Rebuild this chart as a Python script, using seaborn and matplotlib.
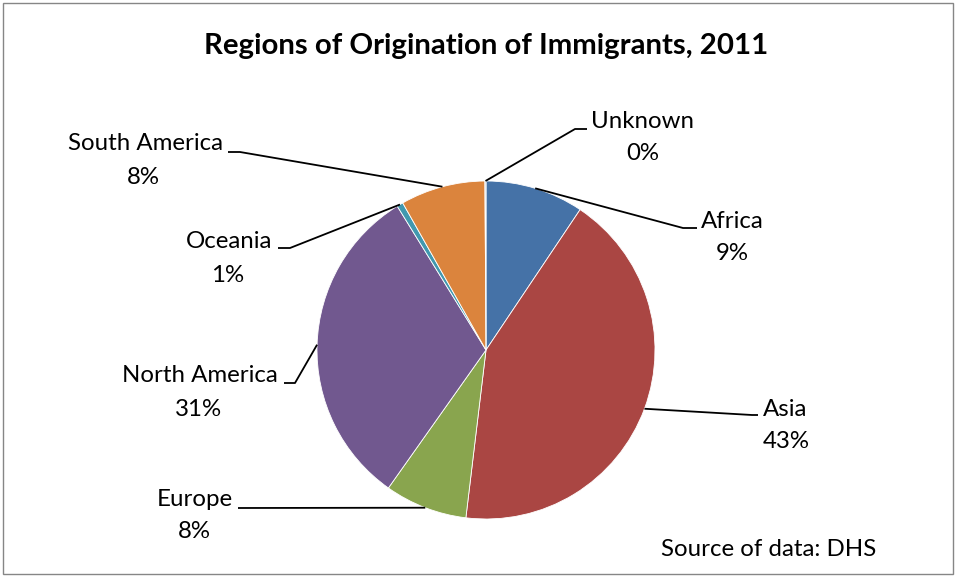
import numpy as np
import matplotlib
matplotlib.use("Agg")
import matplotlib.pyplot as plt
from matplotlib.patches import Rectangle
import seaborn as sns

# Share of immigrants by region of origin (percent)
regions = ["Africa", "Asia", "Europe", "North America", "Oceania",
           "South America", "Unknown"]
shares = [9.4, 42.5, 7.9, 31.4, 0.6, 8.1, 0.1]
colors = ["#4572A7", "#AA4643", "#89A54E", "#71588F", "#4198AF",
          "#DB843D", "#93A9CF"]

title = "Regions of Origination of Immigrants, 2011"
source = "Source of data: DHS"

sns.set_theme(style="white")
plt.rcParams["font.family"] = ["Lato", "DejaVu Sans"]

W, H = 956, 577
fig = plt.figure(figsize=(W / 100, H / 100), dpi=100)
ax = fig.add_axes([0, 0, 1, 1])

# pie geometry in pixel units (y up)
cx, cy, r = 486, H - 350, 169

wedges, _ = ax.pie(shares, colors=colors, startangle=90, counterclock=False,
                   center=(cx, cy), radius=r,
                   wedgeprops=dict(edgecolor="white", linewidth=0.6))
ax.set_xlim(0, W)
ax.set_ylim(0, H)
ax.set_aspect("equal")
ax.axis("off")

# label layout: (elbow point, end of horizontal stub, text anchor side,
# name position, percent position) in image pixel coordinates (y down)
layout = {
    "Africa":        ((683, 228), (697, 228), "left",  (701, 222), (732, 254)),
    "Asia":          ((752, 415), (758, 415), "left",  (763, 409), (786, 441)),
    "Europe":        ((238, 508), (238, 508), "right", (233, 500), (194, 532)),
    "North America": ((295, 383), (284, 383), "right", (278, 376), (199, 409)),
    "Oceania":       ((290, 248), (278, 248), "right", (272, 242), (228, 275)),
    "South America": ((240, 152), (228, 152), "right", (223, 144), (143, 177)),
    "Unknown":       ((575, 129), (587, 129), "left",  (591, 121), (643, 154)),
}

label_size = 17.3
total = sum(shares)
for name, val, w in zip(regions, shares, wedges):
    mid = np.deg2rad((w.theta1 + w.theta2) / 2)
    px = cx + r * np.cos(mid)
    py = cy + r * np.sin(mid)
    elbow, stub, side, npos, ppos = layout[name]
    xs = [px, elbow[0], stub[0]]
    ys = [py, H - elbow[1], H - stub[1]]
    ax.plot(xs, ys, color="black", lw=1.3, solid_capstyle="butt")
    pct = f"{int(np.floor(val / total * 100 + 0.5))}%"
    ax.text(npos[0], H - npos[1], name, ha=side, va="center",
            fontsize=label_size, color="black")
    ax.text(ppos[0], H - ppos[1], pct, ha="center", va="center",
            fontsize=label_size, color="black")

fig.text(486 / W, 1 - 46 / H, title, ha="center", va="center",
         fontsize=21.2, fontweight="bold", color="black")
fig.text(769 / W, 1 - 550 / H, source, ha="center", va="center",
         fontsize=label_size, color="black")

# chart area frame
fig.patches.append(Rectangle((3 / W, 3 / H), 1 - 6 / W, 1 - 6 / H,
                             transform=fig.transFigure, fill=False,
                             edgecolor="#868686", linewidth=1.0))

fig.savefig("out.png", dpi=100)
